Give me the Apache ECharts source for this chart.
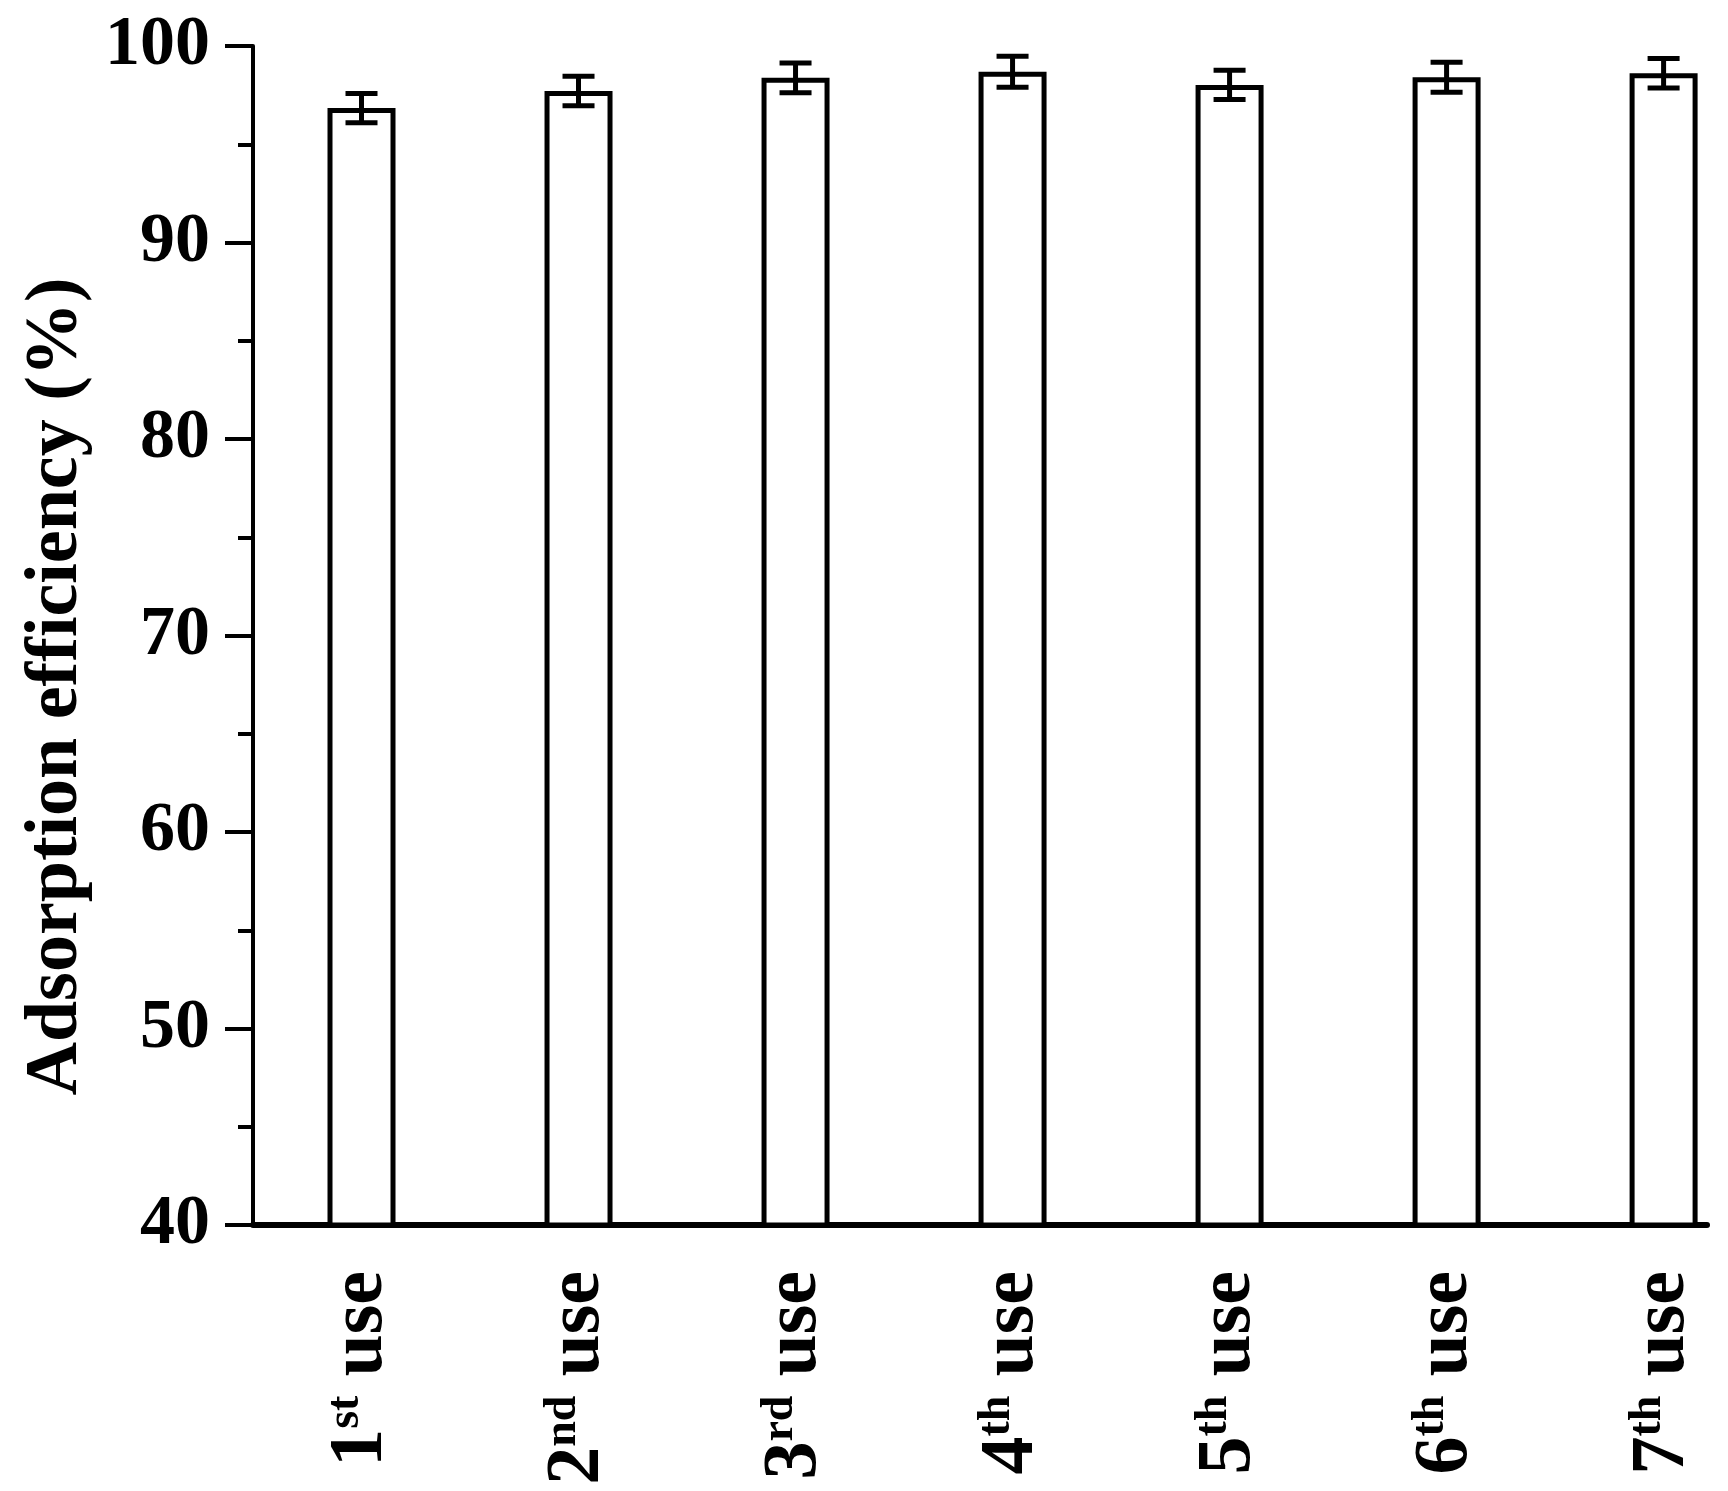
<!DOCTYPE html>
<html lang="en">
  <head>
    <meta charset="UTF-8" />
    <title>Adsorption efficiency</title>
    <script src="https://cdn.jsdelivr.net/npm/echarts@6/dist/echarts.min.js"></script>
    <style>
      html,
      body {
        margin: 0;
        padding: 0;
        background: #fff;
      }
      #chart {
        width: 1728px;
        height: 1491px;
      }
    </style>
  </head>
  <body>
    <div id="chart"></div>
    <script>
      // data
      const categories = ["1st use", "2nd use", "3rd use", "4th use", "5th use", "6th use", "7th use"];
      const positions = [1, 2, 3, 4, 5, 6, 7];
      const efficiency = [96.84, 97.71, 98.38, 98.69, 98.02, 98.41, 98.61];
      const errors = [0.74, 0.75, 0.76, 0.79, 0.74, 0.76, 0.75];
      const yTicks = [40, 50, 60, 70, 80, 90, 100];

      const FONT = "Liberation Serif";
      const chart = echarts.init(document.getElementById("chart"));

      const barData = positions.map((x, i) => [x, efficiency[i]]);
      const errData = positions.map((x, i) => [x, efficiency[i], errors[i]]);

      // split "1st use" into number, suffix and rest for the superscript
      const labelFor = (v) => {
        const i = positions.indexOf(Math.round(v));
        if (i < 0) return "";
        const m = categories[i].match(/^(\d+)(\D+?)\s(.*)$/);
        return "{n|" + m[1] + "}{s|" + m[2] + "}{n| " + m[3] + "}";
      };

      const option = {
        animation: false,
        backgroundColor: "#fff",
        grid: {
          left: 253,
          right: 21,
          top: 46,
          bottom: 266,
        },
        xAxis: {
          type: "value",
          min: 0.5,
          max: 7.2,
          splitLine: { show: false },
          axisTick: { show: false },
          axisLine: {
            show: true,
            onZero: false,
            lineStyle: { color: "#000", width: 6 },
          },
          axisLabel: {
            customValues: positions,
            rotate: 90,
            margin: 46,
            formatter: labelFor,
            rich: {
              n: {
                fontFamily: FONT,
                fontWeight: "bold",
                fontSize: 76,
                color: "#000",
              },
              s: {
                fontFamily: FONT,
                fontWeight: "bold",
                fontSize: 46,
                color: "#000",
                verticalAlign: "top",
              },
            },
          },
        },
        yAxis: {
          type: "value",
          min: yTicks[0],
          max: yTicks[yTicks.length - 1],
          interval: 10,
          name: "Adsorption efficiency (%)",
          nameLocation: "middle",
          nameGap: 158,
          nameTextStyle: {
            fontFamily: FONT,
            fontWeight: "bold",
            fontSize: 74,
            color: "#000",
            padding: [0, 102, 0, 0],
          },
          splitLine: { show: false },
          axisLine: {
            show: true,
            lineStyle: { color: "#000", width: 4 },
          },
          axisTick: {
            show: true,
            length: 28,
            lineStyle: { color: "#000", width: 4 },
          },
          minorTick: {
            show: true,
            splitNumber: 2,
            length: 15,
            lineStyle: { color: "#000", width: 4 },
          },
          axisLabel: {
            margin: 43,
            fontFamily: FONT,
            fontWeight: "bold",
            fontSize: 70,
            color: "#000",
          },
        },
        series: [
          {
            type: "bar",
            barWidth: 68,
            data: barData,
            itemStyle: {
              color: "#fff",
              borderColor: "#000",
              borderWidth: 5,
            },
            emphasis: { disabled: true },
          },
          {
            // error bars
            type: "custom",
            data: errData,
            z: 5,
            renderItem: function (params, api) {
              const x = api.value(0);
              const y = api.value(1);
              const e = api.value(2);
              const hi = api.coord([x, y + e]);
              const lo = api.coord([x, y - e]);
              const half = 16;
              const style = { stroke: "#000", lineWidth: 5 };
              return {
                type: "group",
                children: [
                  {
                    type: "line",
                    shape: { x1: hi[0], y1: hi[1], x2: lo[0], y2: lo[1] },
                    style: style,
                  },
                  {
                    type: "line",
                    shape: { x1: hi[0] - half, y1: hi[1], x2: hi[0] + half, y2: hi[1] },
                    style: style,
                  },
                  {
                    type: "line",
                    shape: { x1: lo[0] - half, y1: lo[1], x2: lo[0] + half, y2: lo[1] },
                    style: style,
                  },
                ],
              };
            },
          },
        ],
      };

      chart.setOption(option);
    </script>
  </body>
</html>
